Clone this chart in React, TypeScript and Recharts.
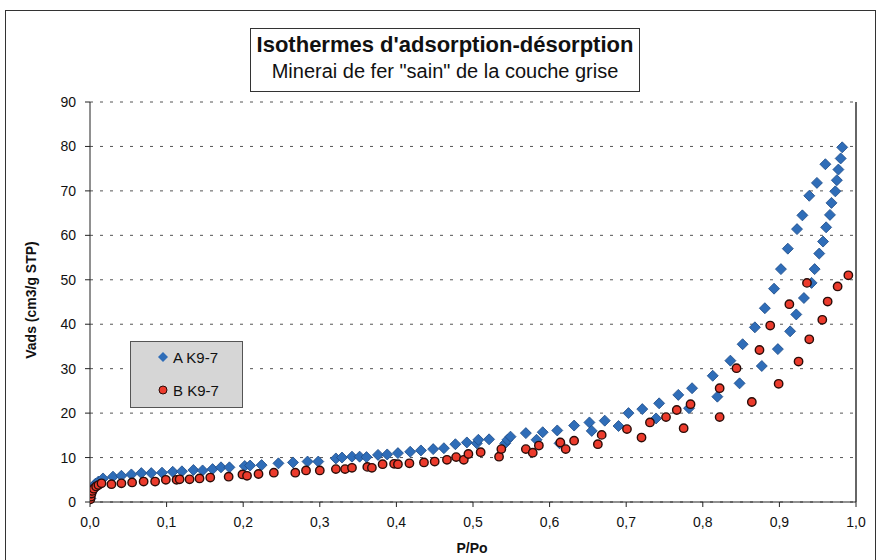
import React from "react";
import {
  ScatterChart,
  Scatter,
  XAxis,
  YAxis,
  CartesianGrid,
  ReferenceLine,
} from "recharts";

// P/Po and adsorbed volume
const aX = [
  0.0005, 0.001, 0.002, 0.004, 0.007, 0.011, 0.017, 0.03, 0.041, 0.054, 0.067, 0.08, 0.094, 0.108,
  0.12, 0.135, 0.147, 0.16, 0.171, 0.182, 0.202, 0.209, 0.224, 0.246, 0.265, 0.284, 0.298, 0.321,
  0.329, 0.342, 0.352, 0.361, 0.376, 0.388, 0.402, 0.418, 0.432, 0.448, 0.462, 0.477, 0.492, 0.505,
  0.507, 0.521, 0.542, 0.545, 0.549, 0.569, 0.583, 0.591, 0.61, 0.613, 0.632, 0.652, 0.655, 0.672,
  0.69, 0.703, 0.721, 0.739, 0.743, 0.768, 0.782, 0.786, 0.813, 0.819, 0.836, 0.848, 0.852, 0.868,
  0.877, 0.881, 0.893, 0.898, 0.902, 0.911, 0.914, 0.922, 0.923, 0.93, 0.932, 0.939, 0.942, 0.946,
  0.949, 0.952, 0.957, 0.96, 0.961, 0.966, 0.968, 0.973, 0.975, 0.977, 0.98, 0.982,
];
const aY = [
  0.8, 2.0, 2.8, 3.5, 4.1, 4.6, 5.3, 5.7, 5.9, 6.2, 6.5, 6.5, 6.6, 6.8,
  6.9, 7.2, 7.1, 7.4, 7.8, 7.8, 8.1, 8.2, 8.3, 8.7, 8.9, 9.1, 9.1, 9.8,
  10.0, 10.2, 10.2, 10.1, 10.6, 10.7, 11.0, 11.3, 11.6, 11.9, 12.1, 13.0, 13.4, 13.2,
  14.0, 14.1, 13.2, 14.0, 14.7, 15.5, 14.0, 15.7, 16.1, 13.2, 17.2, 17.9, 16.0, 18.3,
  17.1, 20.0, 20.9, 18.8, 22.2, 24.1, 21.1, 25.6, 28.4, 23.7, 31.8, 26.7, 35.5, 39.3,
  30.6, 43.6, 48.0, 34.4, 52.4, 57.0, 38.4, 42.2, 61.4, 64.5, 45.9, 68.9, 49.3, 52.4,
  71.8, 55.9, 58.6, 76.0, 61.8, 64.6, 67.3, 69.9, 72.4, 74.8, 77.3, 79.8,
];

const bX = [
  0.0005, 0.001, 0.002, 0.003, 0.005, 0.008, 0.011, 0.015, 0.028, 0.041, 0.055, 0.07, 0.085, 0.099,
  0.113, 0.117, 0.13, 0.143, 0.157, 0.181, 0.199, 0.205, 0.22, 0.24, 0.268, 0.282, 0.3, 0.321,
  0.333, 0.342, 0.362, 0.368, 0.382, 0.397, 0.402, 0.417, 0.436, 0.45, 0.466, 0.478, 0.488, 0.494,
  0.51, 0.534, 0.537, 0.569, 0.578, 0.586, 0.614, 0.621, 0.632, 0.663, 0.668, 0.701, 0.72, 0.731,
  0.752, 0.766, 0.775, 0.784, 0.822, 0.822, 0.844, 0.864, 0.874, 0.888, 0.899, 0.913, 0.925, 0.936,
  0.939, 0.956, 0.963, 0.976, 0.99,
];
const bY = [
  0.6, 1.2, 1.9, 2.5, 3.0, 3.5, 3.8, 4.2, 4.0, 4.2, 4.4, 4.6, 4.6, 5.0,
  5.0, 5.1, 5.1, 5.3, 5.5, 5.7, 6.2, 5.9, 6.3, 6.6, 6.6, 7.1, 7.1, 7.4,
  7.4, 7.7, 7.9, 7.7, 8.5, 8.6, 8.5, 8.7, 8.9, 9.1, 9.5, 10.1, 9.5, 10.8,
  11.2, 10.2, 11.9, 11.9, 11.1, 12.7, 13.4, 11.9, 13.8, 13.0, 15.1, 16.4, 14.5, 17.9,
  19.1, 20.7, 16.6, 22.0, 19.1, 25.6, 30.1, 22.5, 34.2, 39.7, 26.6, 44.5, 31.6, 49.3,
  36.6, 41.0, 45.1, 48.5, 51.0,
];

const xTicks = [0, 0.1, 0.2, 0.3, 0.4, 0.5, 0.6, 0.7, 0.8, 0.9, 1.0];
const yTicks = [0, 10, 20, 30, 40, 50, 60, 70, 80, 90];

const seriesA = aX.map((x, i) => ({ x, y: aY[i] }));
const seriesB = bX.map((x, i) => ({ x, y: bY[i] }));

const FONT = '"Liberation Sans", Arial, sans-serif';
const BLUE = "#2f6db8";
const RED = "#ec3b2c";

const Diamond = (props: any) => {
  const { cx, cy } = props;
  const r = 5.5;
  return (
    <path
      d={`M${cx},${cy - r}L${cx + r},${cy}L${cx},${cy + r}L${cx - r},${cy}Z`}
      fill={BLUE}
      stroke="#1d4a85"
      strokeWidth={0.8}
    />
  );
};

const Dot = (props: any) => {
  const { cx, cy } = props;
  return <circle cx={cx} cy={cy} r={4.2} fill={RED} stroke="#2a0c08" strokeWidth={1.4} />;
};

function LegendBox() {
  return (
    <div
      style={{
        position: "absolute",
        left: 130,
        top: 341,
        width: 113,
        height: 67,
        background: "#d6d6d6",
        border: "1px solid #555",
        fontSize: 15,
        color: "#111",
        boxSizing: "border-box",
        paddingLeft: 26,
        paddingTop: 2,
      }}
    >
      <div style={{ display: "flex", alignItems: "center", height: 26 }}>
        <svg width={12} height={12} style={{ marginRight: 4 }}>
          <path d="M6,1L11,6L6,11L1,6Z" fill={BLUE} />
        </svg>
        A K9-7
      </div>
      <div style={{ display: "flex", alignItems: "center", height: 26, marginTop: 7 }}>
        <svg width={12} height={12} style={{ marginRight: 4 }}>
          <circle cx={6} cy={6} r={4} fill={RED} stroke="#2a0c08" strokeWidth={1} />
        </svg>
        B K9-7
      </div>
    </div>
  );
}

export default function App() {
  return (
    <div
      style={{
        position: "absolute",
        left: 0,
        top: 0,
        width: 883,
        height: 560,
        background: "#fff",
        fontFamily: FONT,
      }}
    >
      <div
        style={{
          position: "absolute",
          left: 5,
          top: 10,
          width: 871,
          height: 560,
          border: "1px solid #333",
          boxSizing: "border-box",
        }}
      />
      <div
        style={{
          position: "absolute",
          left: 250,
          top: 28,
          width: 390,
          height: 64,
          border: "1px solid #333",
          boxSizing: "border-box",
          textAlign: "center",
          color: "#111",
        }}
      >
        <div style={{ fontSize: 22, fontWeight: "bold", marginTop: 3 }}>
          Isothermes d'adsorption-désorption
        </div>
        <div style={{ fontSize: 20, marginTop: 2 }}>Minerai de fer "sain" de la couche grise</div>
      </div>
      <ScatterChart
        width={883}
        height={560}
        margin={{ top: 102, right: 27, bottom: 28, left: 50 }}
        style={{ position: "absolute", left: 0, top: 0 }}
      >
        <CartesianGrid horizontal vertical={false} stroke="#555" strokeDasharray="3 7" />
        <XAxis
          type="number"
          dataKey="x"
          domain={[0, 1]}
          ticks={xTicks}
          tickFormatter={(v: number) => v.toFixed(1).replace(".", ",")}
          height={30}
          tickSize={5}
          tickMargin={10}
          stroke="#222"
          tick={{ fill: "#111", fontSize: 14, fontFamily: FONT }}
          allowDataOverflow
        />
        <YAxis
          type="number"
          dataKey="y"
          domain={[0, 90]}
          ticks={yTicks}
          width={40}
          tickSize={5}
          tickMargin={9}
          stroke="#222"
          tick={{ fill: "#111", fontSize: 14, fontFamily: FONT }}
        />
        <ReferenceLine x={1} stroke="#333" strokeWidth={1.5} />
        <Scatter name="A K9-7" data={seriesA} shape={Diamond} isAnimationActive={false} />
        <Scatter name="B K9-7" data={seriesB} shape={Dot} isAnimationActive={false} />
      </ScatterChart>
      <LegendBox />
      <div
        style={{
          position: "absolute",
          left: 31,
          top: 300,
          transform: "translate(-50%, -50%) rotate(-90deg)",
          whiteSpace: "nowrap",
          fontSize: 14,
          fontWeight: "bold",
          color: "#111",
        }}
      >
        Vads (cm3/g STP)
      </div>
      <div
        style={{
          position: "absolute",
          left: 472,
          top: 548,
          transform: "translate(-50%, -50%)",
          fontSize: 14,
          fontWeight: "bold",
          color: "#111",
        }}
      >
        P/Po
      </div>
    </div>
  );
}
